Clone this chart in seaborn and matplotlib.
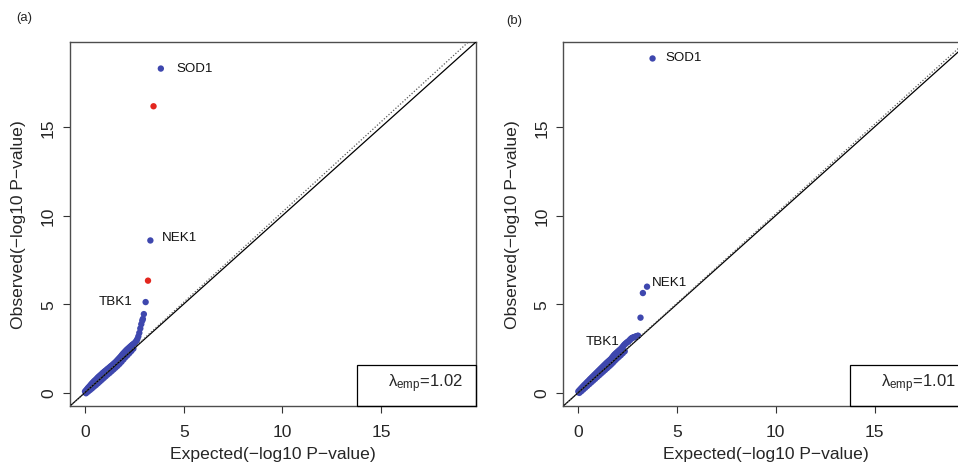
import numpy as np
import pandas as pd
import matplotlib
matplotlib.use("Agg")
import matplotlib.pyplot as plt
import seaborn as sns
from matplotlib.patches import Rectangle

# ---------------- data ----------------
# Panel (a): expected / observed -log10 P
a_exp_main = [0.00, 0.05, 0.10, 0.15, 0.20, 0.25, 0.30, 0.35, 0.40, 0.45, 0.50, 0.55, 0.60, 0.65,
              0.70, 0.75, 0.80, 0.85, 0.90, 0.95, 1.00, 1.05, 1.10, 1.15, 1.20, 1.25, 1.30, 1.35,
              1.40, 1.45, 1.50, 1.55, 1.60, 1.65, 1.70, 1.75, 1.80, 1.85, 1.90, 1.95, 2.00, 2.05,
              2.10, 2.15, 2.20, 2.25, 2.30, 2.35, 2.40, 2.45, 2.50, 2.55, 2.60, 2.65, 2.70, 2.75,
              2.80, 2.85, 2.90, 2.93, 2.98, 3.07, 3.19, 3.31, 3.47, 3.84]
a_obs_main = [0.06, 0.12, 0.19, 0.26, 0.32, 0.38, 0.45, 0.51, 0.57, 0.63, 0.68, 0.73, 0.79, 0.85,
              0.90, 0.95, 1.00, 1.05, 1.11, 1.15, 1.20, 1.24, 1.29, 1.34, 1.38, 1.43, 1.48, 1.52,
              1.57, 1.62, 1.67, 1.72, 1.78, 1.84, 1.90, 1.96, 2.02, 2.09, 2.16, 2.22, 2.28, 2.34,
              2.40, 2.45, 2.50, 2.55, 2.60, 2.65, 2.70, 2.74, 2.78, 2.84, 2.92, 3.02, 3.17, 3.37,
              3.62, 3.86, 4.06, 4.16, 4.43, 5.11, 6.32, 8.59, 16.17, 18.30]
a_grp_main = ["blue"] * 62 + ["red", "blue", "red", "blue"]
a_exp_low = [0.05, 0.15, 0.25, 0.35, 0.45, 0.55, 0.65, 0.75, 0.85, 0.95, 1.05, 1.15, 1.25,
             1.35, 1.45, 1.55, 1.65, 1.75, 1.85, 1.95, 2.05, 2.15, 2.25, 2.35, 2.45]
a_obs_low = [-0.04, 0.05, 0.14, 0.23, 0.33, 0.42, 0.52, 0.62, 0.72, 0.82, 0.92, 1.02, 1.11,
             1.21, 1.31, 1.41, 1.51, 1.62, 1.74, 1.87, 2.00, 2.11, 2.23, 2.35, 2.48]
a_lambda = 1.02

# Panel (b)
b_exp_main = [0.00, 0.05, 0.10, 0.15, 0.20, 0.25, 0.30, 0.35, 0.40, 0.45, 0.50, 0.55, 0.60, 0.65,
              0.70, 0.75, 0.80, 0.85, 0.90, 0.95, 1.00, 1.05, 1.10, 1.15, 1.20, 1.25, 1.30, 1.35,
              1.40, 1.45, 1.50, 1.55, 1.60, 1.65, 1.70, 1.75, 1.80, 1.85, 1.90, 1.95, 2.00, 2.05,
              2.10, 2.15, 2.20, 2.25, 2.30, 2.35, 2.40, 2.45, 2.50, 2.55, 2.60, 2.65, 2.70, 2.75,
              2.80, 2.85, 2.90, 2.95, 3.00, 3.03, 3.15, 3.27, 3.48, 3.76]
b_obs_main = [0.06, 0.12, 0.18, 0.24, 0.30, 0.36, 0.42, 0.47, 0.53, 0.59, 0.64, 0.70, 0.76, 0.81,
              0.87, 0.92, 0.98, 1.03, 1.09, 1.14, 1.20, 1.25, 1.31, 1.36, 1.42, 1.47, 1.53, 1.58,
              1.64, 1.69, 1.74, 1.79, 1.84, 1.89, 1.96, 2.03, 2.10, 2.16, 2.21, 2.26, 2.31, 2.36,
              2.41, 2.46, 2.52, 2.59, 2.66, 2.72, 2.77, 2.82, 2.86, 2.90, 2.96, 3.02, 3.07, 3.10,
              3.12, 3.14, 3.16, 3.18, 3.20, 3.21, 4.23, 5.62, 5.98, 18.87]
b_grp_main = ["blue"] * 66
b_exp_low = [0.05, 0.15, 0.25, 0.35, 0.45, 0.55, 0.65, 0.75, 0.85, 0.95, 1.05, 1.15, 1.25,
             1.35, 1.45, 1.55, 1.65, 1.75, 1.85, 1.95, 2.05, 2.15, 2.25, 2.35]
b_obs_low = [-0.02, 0.07, 0.17, 0.27, 0.37, 0.47, 0.57, 0.67, 0.77, 0.87, 0.97, 1.07, 1.17,
             1.27, 1.37, 1.47, 1.57, 1.68, 1.80, 1.91, 2.01, 2.11, 2.22, 2.33]
b_lambda = 1.01

genes_a = ["SOD1", "NEK1", "TBK1"]
genes_a_xy = [(3.84, 18.30), (3.31, 8.59), (3.07, 5.11)]
genes_b = ["SOD1", "NEK1", "TBK1"]
genes_b_xy = [(3.76, 18.87), (3.48, 5.98), (2.45, 2.80)]

ticks = [0, 5, 10, 15]
tick_labels = ["0", "5", "10", "15"]

# ---------------- styling ----------------
sns.set_style("white")
plt.rcParams["font.family"] = ["Liberation Sans", "DejaVu Sans"]
plt.rcParams["mathtext.fontset"] = "custom"
plt.rcParams["mathtext.rm"] = "Liberation Sans"
plt.rcParams["mathtext.it"] = "Liberation Sans:italic"
plt.rcParams["mathtext.default"] = "regular"

BLUE = "#3E47AE"
RED = "#E3261E"
palette = {"blue": BLUE, "red": RED}
LIM = (-0.76, 19.8)
MINUS = "\u2212"

W, H = 958, 464
fig = plt.figure(figsize=(W / 100, H / 100), dpi=100)
ax_a = fig.add_axes([70 / W, 57 / H, 406 / W, 364 / H])
ax_b = fig.add_axes([563.3 / W, 57 / H, 406 / W, 364 / H])


def make_df(em, om, gm, el, ol):
    d1 = pd.DataFrame({"expected": em, "observed": om, "group": gm})
    d2 = pd.DataFrame({"expected": el, "observed": ol, "group": ["blue"] * len(el)})
    return pd.concat([d2, d1], ignore_index=True)


def panel(ax, df, lam, genes, genes_xy, offsets, tag, tagpos):
    sns.scatterplot(data=df, x="expected", y="observed", hue="group", palette=palette,
                    s=21, linewidth=0, edgecolor="none", legend=False, ax=ax, zorder=2)
    ax.axline((0, 0), slope=1, color="black", lw=0.9, zorder=3)
    ax.axline((0, 0), slope=lam, color="0.35", lw=0.9, ls=(0, (1, 1.5)), zorder=3)
    ax.set_xlim(LIM)
    ax.set_ylim(LIM)
    ax.set_xticks(ticks)
    ax.set_xticklabels(tick_labels)
    ax.set_yticks(ticks)
    ax.set_yticklabels(tick_labels, rotation=90, va="center")
    ax.tick_params(axis="both", direction="out", length=5, width=0.8, color="0.2",
                   labelsize=12.6, bottom=True, left=True)
    ax.tick_params(axis="x", pad=8)
    ax.tick_params(axis="y", pad=5)
    for sp in ax.spines.values():
        sp.set_color("0.3")
        sp.set_linewidth(1.0)
    ax.set_xlabel("Expected(" + MINUS + "log10 P" + MINUS + "value)", fontsize=12.6)
    ax.set_ylabel("Observed(" + MINUS + "log10 P" + MINUS + "value)", fontsize=12.6)
    ax.xaxis.set_label_coords(0.5, -48 / 364)
    ax.xaxis.label.set_va("center")
    ax.yaxis.set_label_coords(-51 / 406, 0.5)
    ax.yaxis.label.set_va("center")
    # legend box with lambda
    ax.add_patch(Rectangle((1 - 0.293, 0), 0.293, 0.1135, transform=ax.transAxes,
                           fill=False, edgecolor="black", lw=0.9, zorder=4, clip_on=False))
    ax.text(1 - 0.293 + 31 / 406, 0.063, r"$\lambda_{emp}$=%.2f" % lam,
            transform=ax.transAxes, ha="left", va="center", fontsize=12, zorder=5)
    for g, xy, off in zip(genes, genes_xy, offsets):
        ha = "left" if off[0] > 0 else "right"
        ax.annotate(g, xy=xy, xytext=off, textcoords="offset pixels",
                    ha=ha, va="center", fontsize=9.6, color="#111111")
    fig.text(tagpos[0] / W, 1 - tagpos[1] / H, tag, ha="center", va="center", fontsize=9.4)


panel(ax_a, make_df(a_exp_main, a_obs_main, a_grp_main, a_exp_low, a_obs_low), a_lambda,
      genes_a, genes_a_xy, [(15.7, 0.7), (12, 3.3), (-13.3, 1.4)], "(a)", (24, 18.3))
panel(ax_b, make_df(b_exp_main, b_obs_main, b_grp_main, b_exp_low, b_obs_low), b_lambda,
      genes_b, genes_b_xy, [(13, 1), (5, 4.3), (-7.5, 2.2)], "(b)", (514, 20.7))

fig.savefig("out.png", dpi=100)
